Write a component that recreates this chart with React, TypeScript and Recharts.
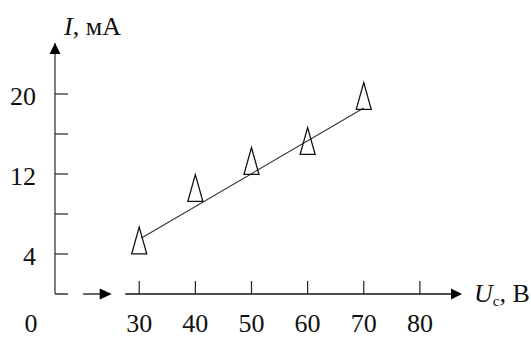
import React from 'react';
import { ComposedChart, XAxis, YAxis, Scatter, ReferenceLine, ReferenceDot } from 'recharts';

// measured points (U_c, V ; I, mA)
const voltages = [30, 40, 50, 60, 70];
const currents = [5.35, 10.6, 13.3, 15.3, 19.8];
// fitted straight line, end points
const fitU = [30.4, 70];
const fitI = [5.6, 18.6];

const xTicks = [30, 40, 50, 60, 70, 80];
const yTicks = [4, 8, 12, 16, 20];
const yLabelled = [4, 12, 20];

const X_MIN = 15;
const X_MAX = 87.5;
const Y_MAX = 25.1;

const points = voltages.map((u, i) => ({ u, i: currents[i] }));
const fitLine = fitU.map((u, k) => ({ u, i: fitI[k] }));

const FONT = '"Liberation Serif", "Times New Roman", serif';

const Triangle = (props: any) => {
    const { cx, cy } = props;
    const h = 13.4;
    const w = 7.5;
    return (
        <polygon
            points={`${cx},${cy - h} ${cx + w},${cy + h} ${cx - w},${cy + h}`}
            fill="none"
            stroke="#111"
            strokeWidth={1.3}
        />
    );
};

const YTick = (props: any) => {
    const { x, y, payload } = props;
    const v = payload.value;
    return (
        <g>
            <line x1={x} y1={y} x2={x + 13} y2={y} stroke="#222" strokeWidth={1.2} />
            {yLabelled.includes(v) && (
                <text x={x - 19} y={y + 11} textAnchor="end" fontFamily={FONT} fontSize={26} fill="#111">
                    {v}
                </text>
            )}
        </g>
    );
};

const XTick = (props: any) => {
    const { x, y, payload } = props;
    return (
        <g>
            <line x1={x} y1={y} x2={x} y2={y - 13} stroke="#222" strokeWidth={1.2} />
            <text x={x} y={y + 38} textAnchor="middle" fontFamily={FONT} fontSize={26} fill="#111">
                {payload.value}
            </text>
        </g>
    );
};

const UpArrow = (props: any) => {
    const { cx, cy } = props;
    return (
        <g>
            <polygon points={`${cx},${cy} ${cx + 5.5},${cy + 11} ${cx - 5.5},${cy + 11}`} fill="#000" />
            <text x={cx + 9} y={cy - 8} fontFamily={FONT} fontSize={26} fill="#111">
                <tspan fontStyle="italic">I</tspan>, мА
            </text>
        </g>
    );
};

const RightArrow = (props: any) => {
    const { cx, cy } = props;
    return (
        <g>
            <polygon points={`${cx},${cy} ${cx - 11},${cy - 5.5} ${cx - 11},${cy + 5.5}`} fill="#000" />
            <text x={cx + 12} y={cy + 8} fontFamily={FONT} fontSize={26} fill="#111">
                <tspan fontStyle="italic">U</tspan>
                <tspan fontSize={15} dy={4}>с</tspan>
                <tspan dy={-4}>, В</tspan>
            </text>
        </g>
    );
};

const SmallArrow = (props: any) => {
    const { cx, cy } = props;
    return <polygon points={`${cx},${cy} ${cx - 12},${cy - 5.5} ${cx - 12},${cy + 5.5}`} fill="#000" />;
};

const OriginLabel = (props: any) => {
    const { cx, cy } = props;
    return (
        <text x={cx - 24} y={cy + 38} textAnchor="middle" fontFamily={FONT} fontSize={26} fill="#111">
            0
        </text>
    );
};

const noDot = () => <g />;

export default function App() {
    return (
        <div style={{ position: 'absolute', left: 0, top: 0, width: 531, height: 338, background: '#fff' }}>
            <ComposedChart width={531} height={338} margin={{ top: 43, right: 69, left: 54, bottom: 43 }}>
                <XAxis
                    type="number"
                    dataKey="u"
                    domain={[X_MIN, X_MAX]}
                    ticks={xTicks}
                    height={1}
                    axisLine={false}
                    tickLine={false}
                    tickSize={0}
                    tickMargin={0}
                    tick={XTick}
                    interval={0}
                    allowDataOverflow
                />
                <YAxis
                    type="number"
                    dataKey="i"
                    domain={[0, Y_MAX]}
                    ticks={yTicks}
                    width={1}
                    axisLine={{ stroke: '#555', strokeWidth: 1.5 }}
                    tickLine={false}
                    tickSize={0}
                    tickMargin={0}
                    tick={YTick}
                    interval={0}
                    allowDataOverflow
                />
                {/* broken horizontal axis */}
                <ReferenceLine segment={[{ x: X_MIN, y: 0 }, { x: 17.3, y: 0 }]} stroke="#111" strokeWidth={1.3} />
                <ReferenceLine segment={[{ x: 20, y: 0 }, { x: 24, y: 0 }]} stroke="#111" strokeWidth={1.3} />
                <ReferenceLine segment={[{ x: 27.5, y: 0 }, { x: 86, y: 0 }]} stroke="#111" strokeWidth={1.3} />
                <ReferenceDot x={25.1} y={0} r={1} shape={<SmallArrow />} />
                <ReferenceDot x={X_MAX} y={0} r={1} shape={<RightArrow />} />
                <ReferenceDot x={X_MIN} y={Y_MAX} r={1} shape={<UpArrow />} />
                <ReferenceDot x={X_MIN} y={0} r={1} shape={<OriginLabel />} />
                <Scatter
                    data={fitLine}
                    line={{ stroke: '#333', strokeWidth: 1.1 }}
                    lineType="joint"
                    shape={noDot}
                    isAnimationActive={false}
                />
                <Scatter data={points} shape={<Triangle />} isAnimationActive={false} />
            </ComposedChart>
        </div>
    );
}
